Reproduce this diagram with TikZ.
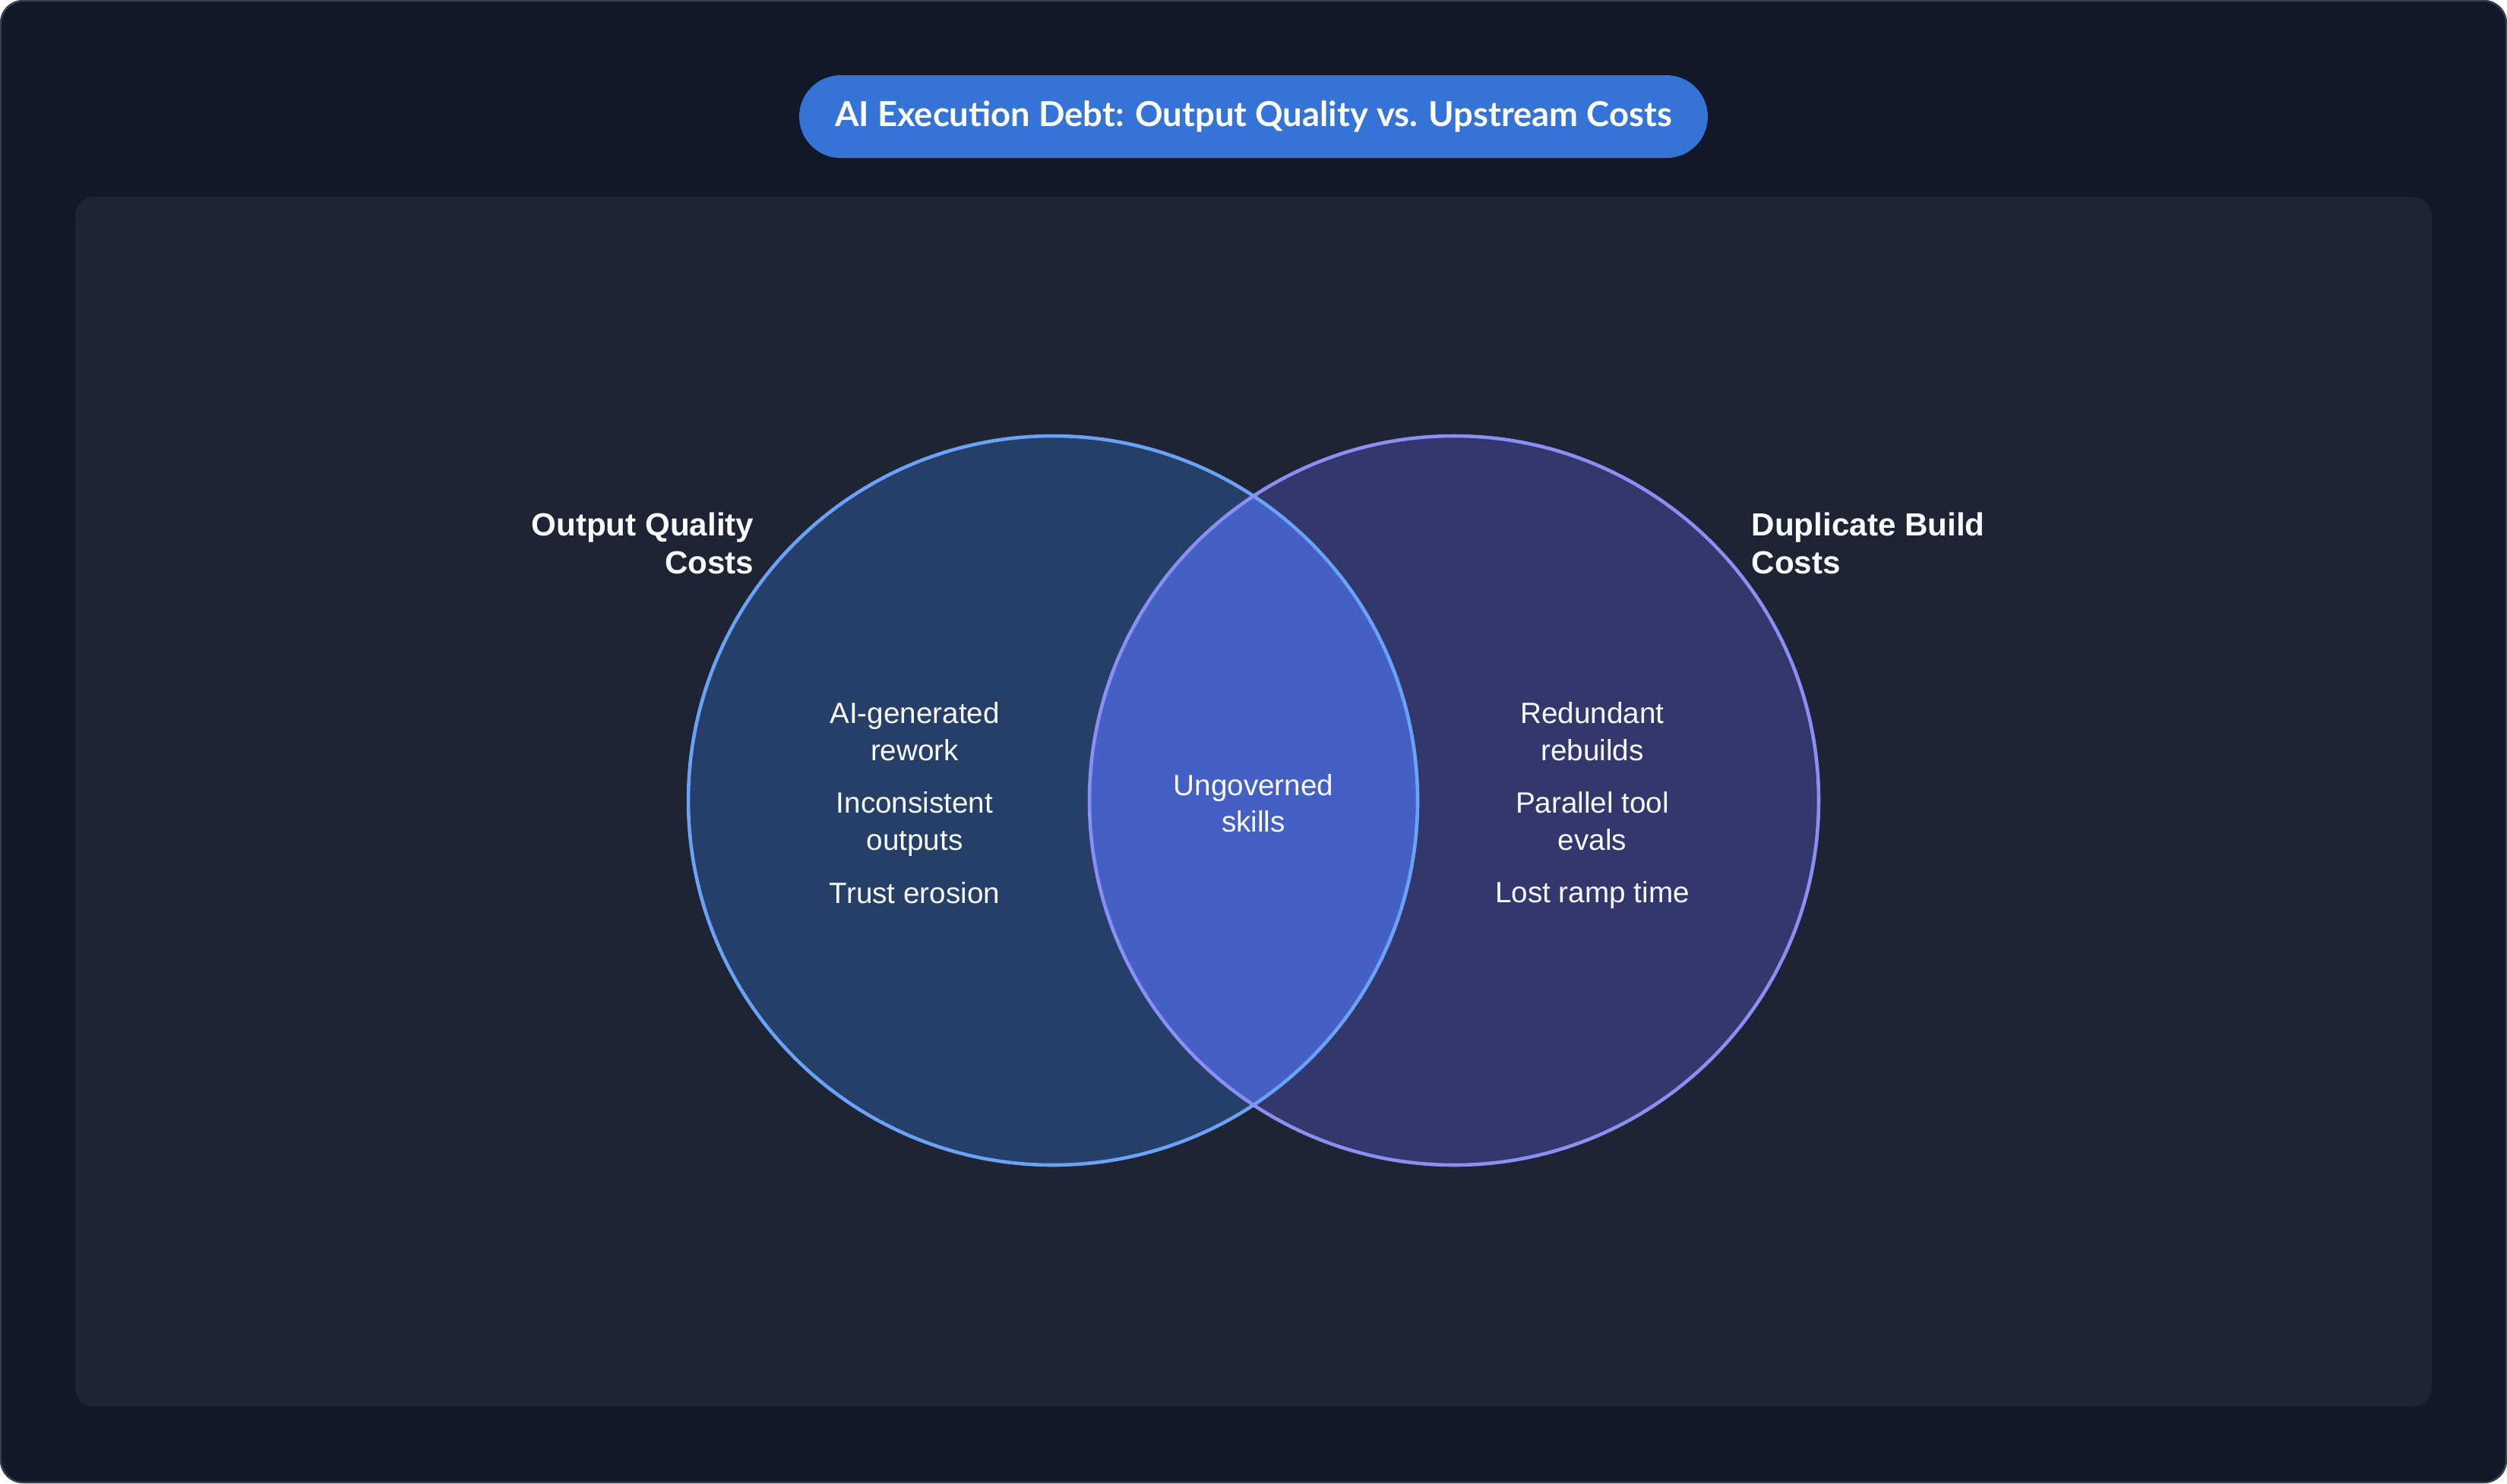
\documentclass[tikz,border=0pt]{standalone}
\usepackage{fontspec}
\setmainfont{Liberation Sans}
\newfontfamily\titlefont{Lato}
\usetikzlibrary{positioning}

\definecolor{pagebg}{HTML}{111827}
\definecolor{pageedge}{HTML}{374151}
\definecolor{panelbg}{HTML}{1E2433}
\definecolor{titlebg}{HTML}{3573D6}
\definecolor{qualfill}{HTML}{253F69}
\definecolor{qualedge}{HTML}{6AA2F8}
\definecolor{dupfill}{HTML}{33386C}
\definecolor{dupedge}{HTML}{8B8EF2}
\definecolor{lensfill}{HTML}{4460C4}
\definecolor{inktext}{HTML}{F8FAFC}

\tikzset{
  item/.style={text=inktext, align=center, font=\fontsize{11}{13.8}\selectfont},
  setlabel/.style={text=inktext, inner sep=0pt, font=\fontsize{12}{14.4}\selectfont\bfseries},
  ring/.style={line width=1.3pt}
}

\begin{document}
\begin{tikzpicture}
  % page and panel
  \fill[pagebg, rounded corners=0.3cm] (0,0) rectangle (33,19.53);
  \draw[pageedge, line width=0.6pt, rounded corners=0.3cm] (0.01,0.01) rectangle (32.99,19.52);
  \useasboundingbox (0,0) rectangle (33,19.53);
  \fill[panelbg, rounded corners=0.25cm] (0.99,1.01) rectangle (32.01,16.94);

  % title
  \node[fill=titlebg, rounded corners=0.545cm, minimum width=11.96cm, minimum height=1.09cm,
        text=white, font=\titlefont\fontsize{12.9}{15}\selectfont\bfseries] (title) at (16.5,17.995)
        {AI Execution Debt: Output Quality vs. Upstream Costs};

  % venn
  \coordinate (lc) at (13.86,8.99);
  \coordinate (rc) at (19.14,8.99);
  \fill[qualfill] (lc) circle (4.8);
  \fill[dupfill] (rc) circle (4.8);
  \begin{scope}
    \clip (lc) circle (4.8);
    \fill[lensfill] (rc) circle (4.8);
  \end{scope}
  \draw[ring, qualedge] (lc) circle (4.8);
  \draw[ring, dupedge] (rc) circle (4.8);

  % set labels
  \node[setlabel, align=right, anchor=east] (qlabel) at (9.93,12.375) {Output Quality\\Costs};
  \node[setlabel, align=left, anchor=west] (dlabel) at (23.05,12.375) {Duplicate Build\\Costs};

  % left items
  \node[item] (rework) at (12.04,9.90) {AI-generated\\rework};
  \node[item] (incons) at (12.04,8.68) {Inconsistent\\outputs};
  \node[item] (trust) at (12.04,7.77) {Trust erosion};

  % overlap
  \node[item] (skills) at (16.5,8.955) {Ungoverned\\skills};

  % right items
  \node[item] (rebuild) at (20.96,9.90) {Redundant\\rebuilds};
  \node[item] (evals) at (20.96,8.72) {Parallel tool\\evals};
  \node[item] (ramp) at (20.96,7.75) {Lost ramp time};
\end{tikzpicture}
\end{document}
